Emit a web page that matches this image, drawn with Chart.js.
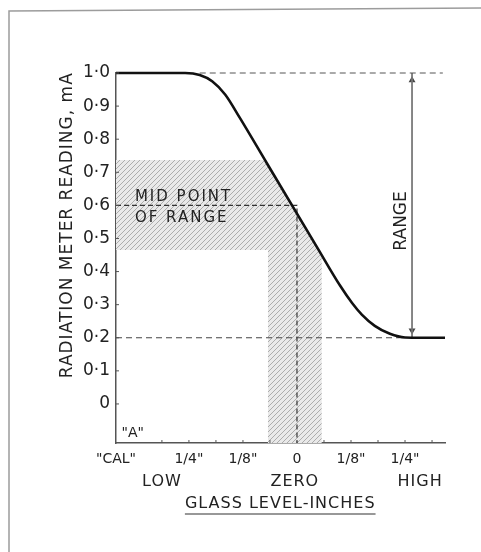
<!DOCTYPE html>
<html>
<head>
<meta charset="utf-8">
<script src="https://cdn.jsdelivr.net/npm/chart.js@4"></script>
<style>
  html, body { margin: 0; padding: 0; background: #fff; }
  #wrap { width: 481px; height: 552px; }
</style>
</head>
<body>
<div id="wrap"><canvas id="c"></canvas></div>
<script>
// glass level in 1/8 inch steps (0 = zero level), meter reading in mA
const curveX = [-3.35, -2.07, -1.80, -1.57, -1.33, -1.06, -0.56, 0.37, 0.80, 1.02, 1.20, 1.44, 1.72, 2.00, 2.74];
const curveY = [1.0, 1.0, 0.994, 0.975, 0.935, 0.865, 0.728, 0.474, 0.357, 0.305, 0.27, 0.236, 0.212, 0.201, 0.2];

// shaded range bands
const bandHX = [-3.35, -0.59, -0.56, 0.37, 0.40];
const bandHY = [0.737, 0.737, 0.728, 0.474, 0.465];
const bandVX = [-0.54, 0.37, 0.46];
const bandVY = [0.723, 0.474, 0.45];

const xTickVals = [-3.35, -2, -1, 0, 1, 2];
const xTickLabels = ['"CAL"', '1/4"', '1/8"', '0', '1/8"', '1/4"'];
const yTickVals = [0, 0.1, 0.2, 0.3, 0.4, 0.5, 0.6, 0.7, 0.8, 0.9, 1.0];
const yTickLabels = ['0', '0·1', '0·2', '0·3', '0·4', '0·5', '0·6', '0·7', '0·8', '0·9', '1·0'];

const midPoint = 0.6, rangeTop = 1.0, rangeBottom = 0.2, rangeX = 2.13;

const pts = (xs, ys) => xs.map((x, i) => ({ x: x, y: ys[i] }));
const FONT = '"DejaVu Sans", sans-serif';

const canvas = document.getElementById('c');
function hatch() {
  const t = document.createElement('canvas');
  t.width = t.height = 5;
  const g = t.getContext('2d');
  g.fillStyle = '#e9e9e9';
  g.fillRect(0, 0, 5, 5);
  g.strokeStyle = '#acacac';
  g.lineWidth = 1;
  g.beginPath();
  g.moveTo(0, 5); g.lineTo(5, 0);
  g.moveTo(-1, 1); g.lineTo(1, -1);
  g.moveTo(4, 6); g.lineTo(6, 4);
  g.stroke();
  return canvas.getContext('2d').createPattern(t, 'repeat');
}
const pattern = hatch();

const extras = {
  id: 'extras',
  beforeDraw(chart) {
    const ctx = chart.ctx;
    ctx.save();
    ctx.strokeStyle = '#9c9c9c';
    ctx.lineWidth = 1.5;
    ctx.beginPath();
    ctx.moveTo(9, 552); ctx.lineTo(9, 11); ctx.lineTo(481, 8);
    ctx.stroke();
    ctx.restore();
  },
  afterDraw(chart) {
    const ctx = chart.ctx, xs = chart.scales.x, ys = chart.scales.y;
    const ca = chart.chartArea;
    ctx.save();
    // small inside tick marks
    ctx.strokeStyle = '#555';
    ctx.lineWidth = 1;
    ctx.beginPath();
    yTickVals.forEach(v => {
      const py = ys.getPixelForValue(v);
      ctx.moveTo(ca.left, py); ctx.lineTo(ca.left + 3, py);
    });
    for (let v = -2.5; v <= 2.6; v += 0.5) {
      const px = xs.getPixelForValue(v);
      ctx.moveTo(px, ca.bottom); ctx.lineTo(px, ca.bottom - 3);
    }
    ctx.stroke();

    ctx.fillStyle = '#222';
    ctx.textBaseline = 'middle';
    ctx.textAlign = 'center';

    // y axis title
    ctx.save();
    ctx.translate(68, ys.getPixelForValue(0.54));
    ctx.rotate(-Math.PI / 2);
    ctx.font = '17px ' + FONT;
    ctx.letterSpacing = '1px';
    ctx.fillText('RADIATION METER READING, mA', 0, 0);
    ctx.restore();

    ctx.letterSpacing = '2px';
    ctx.font = '15px ' + FONT;
    ctx.textAlign = 'left';
    ctx.fillText('MID POINT', xs.getPixelForValue(-3.0), ys.getPixelForValue(0.625));
    ctx.fillText('OF RANGE', xs.getPixelForValue(-3.0), ys.getPixelForValue(0.562));
    ctx.letterSpacing = '0px';
    ctx.textAlign = 'center';
    ctx.font = '14px ' + FONT;
    ctx.fillText('"A"', xs.getPixelForValue(-3.04), ys.getPixelForValue(-0.088));

    ctx.save();
    ctx.translate(xs.getPixelForValue(1.94), ys.getPixelForValue(0.553));
    ctx.rotate(-Math.PI / 2);
    ctx.font = '17px ' + FONT;
    ctx.fillText('RANGE', 0, 0);
    ctx.restore();

    ctx.font = '16px ' + FONT;
    ctx.letterSpacing = '1px';
    ctx.fillText('LOW', xs.getPixelForValue(-2.5), ca.bottom + 39);
    ctx.fillText('ZERO', xs.getPixelForValue(-0.04), ca.bottom + 39);
    ctx.fillText('HIGH', xs.getPixelForValue(2.28), ca.bottom + 39);

    const title = 'GLASS LEVEL-INCHES';
    const tx = xs.getPixelForValue(-0.31), ty = ca.bottom + 61;
    ctx.fillText(title, tx, ty);
    const w = ctx.measureText(title).width;
    ctx.strokeStyle = '#333';
    ctx.lineWidth = 1.2;
    ctx.beginPath();
    ctx.moveTo(tx - w / 2, ty + 10); ctx.lineTo(tx + w / 2, ty + 10);
    ctx.stroke();
    ctx.restore();
  }
};

new Chart(canvas, {
  type: 'line',
  data: {
    datasets: [
      { data: pts(curveX, curveY), borderColor: '#111', borderWidth: 2.6,
        cubicInterpolationMode: 'monotone', pointRadius: 0, fill: false, order: 0, clip: false },
      { data: [{ x: -1.8, y: rangeTop }, { x: 2.7, y: rangeTop }], borderColor: '#555', borderWidth: 1,
        borderDash: [6, 4], pointRadius: 0, fill: false, order: 1, clip: false },
      { data: [{ x: -3.35, y: rangeBottom }, { x: 1.9, y: rangeBottom }], borderColor: '#444', borderWidth: 1,
        borderDash: [6, 4], pointRadius: 0, fill: false, order: 1 },
      { data: [{ x: -3.35, y: midPoint }, { x: 0, y: midPoint }, { x: 0, y: -0.118 }], borderColor: '#333',
        borderWidth: 1.2, borderDash: [5, 3], pointRadius: 0, fill: false, order: 1 },
      { data: [{ x: rangeX, y: rangeTop }, { x: rangeX, y: rangeBottom }], borderColor: '#777', borderWidth: 1,
        pointRadius: 0, fill: false, order: 1, clip: false },
      { type: 'scatter', data: [{ x: rangeX, y: rangeTop - 0.022 }, { x: rangeX, y: rangeBottom + 0.022 }],
        pointStyle: 'triangle', pointRotation: [0, 180], pointRadius: 4, backgroundColor: '#444',
        borderColor: '#444', borderWidth: 0, order: 1 },
      { data: pts(bandHX, bandHY), borderWidth: 0, borderColor: 'rgba(0,0,0,0)', pointRadius: 0,
        backgroundColor: pattern, fill: { value: 0.465 }, order: 10 },
      { data: pts(bandVX, bandVY), borderWidth: 0, borderColor: 'rgba(0,0,0,0)', pointRadius: 0,
        backgroundColor: pattern, fill: 'start', order: 10 }
    ]
  },
  options: {
    responsive: true,
    maintainAspectRatio: false,
    animation: false,
    layout: { padding: { left: 51, top: 73, right: 36, bottom: 0 } },
    plugins: { legend: { display: false }, tooltip: { enabled: false } },
    scales: {
      x: {
        type: 'linear', min: -3.35, max: 2.74,
        grid: { display: false, drawTicks: false },
        border: { display: true, color: '#555', width: 1.5 },
        afterBuildTicks: s => { s.ticks = xTickVals.map(v => ({ value: v })); },
        afterFit: s => { s.height = 109; },
        ticks: {
          autoSkip: false, maxRotation: 0, padding: 8, color: '#222',
          font: { family: FONT, size: 14 },
          callback: v => xTickLabels[xTickVals.indexOf(v)]
        }
      },
      y: {
        type: 'linear', min: -0.118, max: 1.0,
        grid: { display: false, drawTicks: false },
        border: { display: true, color: '#555', width: 1.5 },
        afterBuildTicks: s => { s.ticks = yTickVals.map(v => ({ value: v })); },
        afterFit: s => { s.width = 65; },
        ticks: {
          padding: 6, color: '#222', font: { family: FONT, size: 17 },
          callback: v => yTickLabels[yTickVals.indexOf(v)]
        }
      }
    }
  },
  plugins: [extras]
});
</script>
</body>
</html>
